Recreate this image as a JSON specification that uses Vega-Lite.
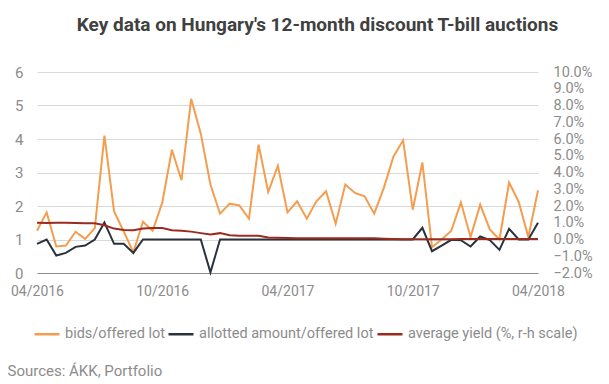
{
  "$schema": "https://vega.github.io/schema/vega-lite/v6.json",
  "width": 501,
  "height": 201,
  "autosize": "none",
  "padding": {"left": 37, "top": 72, "right": 71, "bottom": 111},
  "background": "white",
  "config": {"view": {"stroke": null}, "font": "Roboto"},
  "title": {
    "text": "Key data on Hungary's 12-month discount T-bill auctions",
    "fontSize": 19,
    "fontWeight": "bold",
    "color": "#404040",
    "anchor": "middle",
    "dx": 30,
    "baseline": "alphabetic",
    "offset": 14,
    "font": "Roboto"
  },
  "data": {
    "values": [
      {"d": "2016-04-07", "bids": 1.26, "allot": 0.87, "yield": 1.0},
      {"d": "2016-04-21", "bids": 1.81, "allot": 1.0, "yield": 0.98},
      {"d": "2016-05-05", "bids": 0.79, "allot": 0.52, "yield": 1.0},
      {"d": "2016-05-19", "bids": 0.82, "allot": 0.6, "yield": 1.0},
      {"d": "2016-06-02", "bids": 1.23, "allot": 0.78, "yield": 0.98},
      {"d": "2016-06-16", "bids": 1.02, "allot": 0.82, "yield": 0.97},
      {"d": "2016-06-30", "bids": 1.34, "allot": 1.0, "yield": 0.97},
      {"d": "2016-07-14", "bids": 4.1, "allot": 1.51, "yield": 0.85},
      {"d": "2016-07-28", "bids": 1.84, "allot": 0.87, "yield": 0.65},
      {"d": "2016-08-11", "bids": 1.24, "allot": 0.87, "yield": 0.57},
      {"d": "2016-08-25", "bids": 0.62, "allot": 0.6, "yield": 0.55},
      {"d": "2016-09-08", "bids": 1.53, "allot": 1.0, "yield": 0.66},
      {"d": "2016-09-22", "bids": 1.26, "allot": 1.0, "yield": 0.68},
      {"d": "2016-10-06", "bids": 2.1, "allot": 1.0, "yield": 0.68},
      {"d": "2016-10-20", "bids": 3.68, "allot": 1.0, "yield": 0.55},
      {"d": "2016-11-03", "bids": 2.77, "allot": 1.0, "yield": 0.52},
      {"d": "2016-11-17", "bids": 5.2, "allot": 1.0, "yield": 0.47},
      {"d": "2016-12-01", "bids": 4.16, "allot": 1.0, "yield": 0.38},
      {"d": "2016-12-15", "bids": 2.64, "allot": 0.02, "yield": 0.3},
      {"d": "2016-12-29", "bids": 1.77, "allot": 1.0, "yield": 0.38},
      {"d": "2017-01-12", "bids": 2.07, "allot": 1.0, "yield": 0.25},
      {"d": "2017-01-26", "bids": 2.02, "allot": 1.0, "yield": 0.23},
      {"d": "2017-02-09", "bids": 1.62, "allot": 1.0, "yield": 0.23},
      {"d": "2017-02-23", "bids": 3.83, "allot": 1.0, "yield": 0.22},
      {"d": "2017-03-09", "bids": 2.42, "allot": 1.0, "yield": 0.12},
      {"d": "2017-03-23", "bids": 3.2, "allot": 1.0, "yield": 0.1},
      {"d": "2017-04-06", "bids": 1.81, "allot": 1.0, "yield": 0.09},
      {"d": "2017-04-20", "bids": 2.14, "allot": 1.0, "yield": 0.08},
      {"d": "2017-05-04", "bids": 1.62, "allot": 1.0, "yield": 0.08},
      {"d": "2017-05-18", "bids": 2.14, "allot": 1.0, "yield": 0.08},
      {"d": "2017-06-01", "bids": 2.44, "allot": 1.0, "yield": 0.08},
      {"d": "2017-06-15", "bids": 1.47, "allot": 1.0, "yield": 0.08},
      {"d": "2017-06-29", "bids": 2.64, "allot": 1.0, "yield": 0.08},
      {"d": "2017-07-13", "bids": 2.39, "allot": 1.0, "yield": 0.08},
      {"d": "2017-07-27", "bids": 2.29, "allot": 1.0, "yield": 0.08},
      {"d": "2017-08-10", "bids": 1.77, "allot": 1.0, "yield": 0.07},
      {"d": "2017-08-24", "bids": 2.54, "allot": 1.0, "yield": 0.05},
      {"d": "2017-09-07", "bids": 3.48, "allot": 1.0, "yield": 0.03},
      {"d": "2017-09-21", "bids": 3.96, "allot": 1.0, "yield": 0.02},
      {"d": "2017-10-05", "bids": 1.89, "allot": 1.0, "yield": 0.01},
      {"d": "2017-10-19", "bids": 3.3, "allot": 1.35, "yield": 0.02},
      {"d": "2017-11-02", "bids": 0.77, "allot": 0.65, "yield": 0.01},
      {"d": "2017-11-16", "bids": 1.0, "allot": 0.82, "yield": 0.02},
      {"d": "2017-11-30", "bids": 1.26, "allot": 0.99, "yield": 0.02},
      {"d": "2017-12-14", "bids": 2.11, "allot": 0.98, "yield": 0.03},
      {"d": "2017-12-28", "bids": 1.07, "allot": 0.79, "yield": 0.03},
      {"d": "2018-01-11", "bids": 2.04, "allot": 1.09, "yield": 0.03},
      {"d": "2018-01-25", "bids": 1.3, "allot": 0.98, "yield": 0.03},
      {"d": "2018-02-08", "bids": 1.0, "allot": 0.69, "yield": 0.03},
      {"d": "2018-02-22", "bids": 2.7, "allot": 1.32, "yield": 0.03},
      {"d": "2018-03-08", "bids": 2.12, "allot": 1.0, "yield": 0.03},
      {"d": "2018-03-22", "bids": 1.07, "allot": 1.0, "yield": 0.03},
      {"d": "2018-04-05", "bids": 2.47, "allot": 1.5, "yield": 0.03}
    ]
  },
  "encoding": {
    "x": {
      "field": "d",
      "type": "temporal",
      "scale": {
        "type": "utc",
        "nice": false,
        "domain": [
          {"year": 2016, "month": 4, "date": 7, "utc": true},
          {"year": 2018, "month": 4, "date": 5, "utc": true}
        ]
      },
      "axis": {
        "values": [
          {"year": 2016, "month": 4, "date": 7, "utc": true},
          {"year": 2016, "month": 10, "date": 6, "utc": true},
          {"year": 2017, "month": 4, "date": 6, "utc": true},
          {"year": 2017, "month": 10, "date": 5, "utc": true},
          {"year": 2018, "month": 4, "date": 5, "utc": true}
        ],
        "format": "%m/%Y",
        "labelFlush": false,
        "labelFontSize": 14,
        "labelColor": "#8C8C8C",
        "labelPadding": 11,
        "ticks": false,
        "grid": false,
        "domainColor": "#8C8C8C",
        "domainWidth": 1,
        "title": "Sources: ÁKK, Portfolio",
        "titleX": -30,
        "titleY": 97,
        "titleAlign": "left",
        "titleAnchor": "start",
        "titleBaseline": "middle",
        "titleFontWeight": "normal",
        "titleFontSize": 15,
        "titleColor": "#8C8C8C"
      }
    },
    "color": {
      "field": "series",
      "type": "nominal",
      "scale": {
        "domain": ["bids", "allot", "yield"],
        "range": ["#F59D4F", "#2B323C", "#9B2B1F"]
      },
      "legend": {
        "orient": "none",
        "legendX": -4,
        "legendY": 248,
        "direction": "horizontal",
        "title": null,
        "symbolType": "stroke",
        "symbolSize": 625,
        "symbolStrokeWidth": 2.5,
        "labelFontSize": 14.5,
        "labelColor": "#8C8C8C",
        "labelOffset": 4,
        "labelLimit": 400,
        "columnPadding": -2,
        "labelExpr": "datum.label == 'bids' ? 'bids/offered lot' : datum.label == 'allot' ? 'allotted amount/offered lot' : 'average yield (%, r-h scale)'"
      }
    }
  },
  "layer": [
    {
      "transform": [{"fold": ["bids", "allot"], "as": ["series", "value"]}],
      "mark": {"type": "line", "strokeWidth": 2},
      "encoding": {
        "y": {
          "field": "value",
          "type": "quantitative",
          "scale": {"domain": [0, 6], "nice": false},
          "axis": {
            "orient": "left",
            "values": [0, 1, 2, 3, 4, 5, 6],
            "grid": true,
            "gridColor": "#D9D9D9",
            "domain": false,
            "ticks": false,
            "labelFontSize": 15,
            "labelColor": "#8C8C8C",
            "labelPadding": 14,
            "title": null
          }
        }
      }
    },
    {
      "transform": [{"fold": ["yield"], "as": ["series", "value"]}],
      "mark": {"type": "line", "strokeWidth": 2},
      "encoding": {
        "y": {
          "field": "value",
          "type": "quantitative",
          "scale": {"domain": [-2, 10], "nice": false},
          "axis": {
            "orient": "right",
            "values": [-2, -1, 0, 1, 2, 3, 4, 5, 6, 7, 8, 9, 10],
            "grid": false,
            "domain": false,
            "ticks": false,
            "labelFontSize": 14.5,
            "labelColor": "#8C8C8C",
            "labelPadding": 15,
            "labelExpr": "format(datum.value, '.1f') + '%'",
            "title": null
          }
        }
      }
    }
  ],
  "resolve": {"scale": {"y": "independent"}}
}
